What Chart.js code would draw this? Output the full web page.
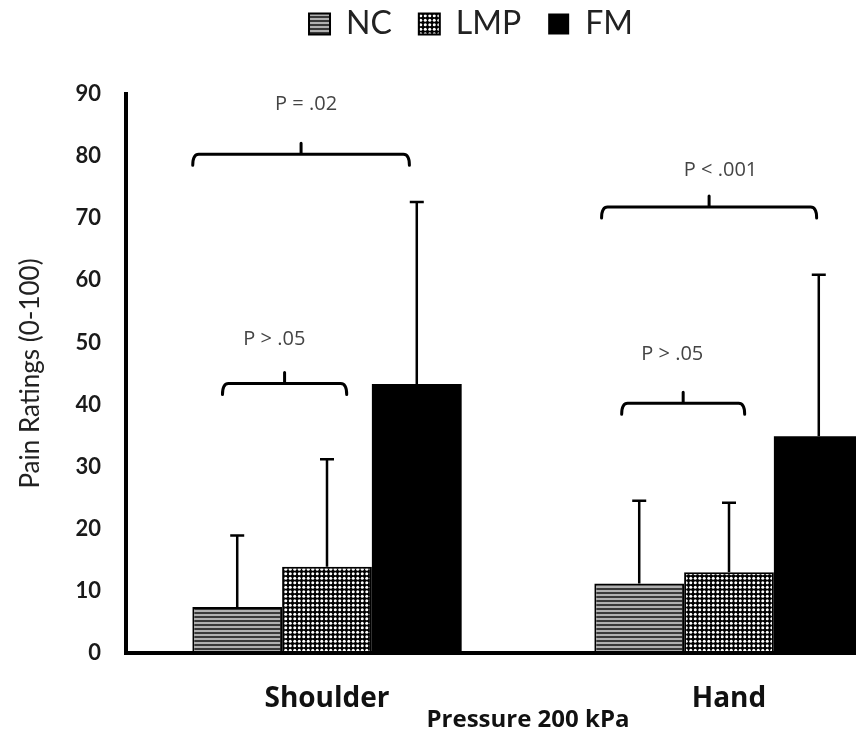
<!DOCTYPE html>
<html>
<head>
<meta charset="utf-8">
<script src="https://cdn.jsdelivr.net/npm/chart.js@4.4.0/dist/chart.umd.min.js"></script>
<style>
  html, body { margin: 0; padding: 0; background: #fff; overflow: hidden; }
  #wrap { width: 964px; height: 737px; }
</style>
</head>
<body>
<div id="wrap"><canvas id="grafico"></canvas></div>
<script>
// datos
const categorias = ["Shoulder", "Hand"];
const series = ["NC", "LMP", "FM"];
const mediaNC = [7.4, 11.2];
const mediaLMP = [13.9, 13.0];
const mediaFM = [43.3, 34.9];
const sdNC = [11.5, 13.3];
const sdLMP = [17.3, 11.2];
const sdFM = [29.3, 26.0];
const ticksY = [0, 10, 20, 30, 40, 50, 60, 70, 80, 90];

// corchetes de significancia (x en unidades de categoria, y en unidades del eje)
const corcheteIni = [-0.334, -0.26, 0.683, 0.733];
const corcheteFin = [0.205, 0.049, 1.218, 1.039];
const corcheteY = [80.3, 43.4, 71.8, 40.2];
const corcheteTexto = ["P = .02", "P > .05", "P < .001", "P > .05"];
const textoX = [-0.052, -0.131, 0.979, 0.859];
const textoY = [88.3, 50.5, 77.7, 48.1];

const fuente = "Lato, 'Open Sans', sans-serif";
const fuenteAncha = "'Open Sans', Lato, sans-serif";

function patronRayas() {
  const c = document.createElement('canvas');
  c.width = 4; c.height = 4;
  const g = c.getContext('2d');
  g.fillStyle = '#b0b0b0';
  g.fillRect(0, 0, 4, 4);
  g.fillStyle = '#383838';
  g.fillRect(0, 0, 4, 2);
  return g.createPattern(c, 'repeat');
}

function patronPuntos() {
  const c = document.createElement('canvas');
  c.width = 9; c.height = 9;
  const g = c.getContext('2d');
  g.fillStyle = '#000';
  g.fillRect(0, 0, 9, 9);
  g.fillStyle = '#fff';
  [[2.25, 2.25], [6.75, 2.25], [2.25, 6.75], [6.75, 6.75]].forEach(p => {
    g.beginPath();
    g.arc(p[0], p[1], 1.5, 0, Math.PI * 2);
    g.fill();
  });
  return g.createPattern(c, 'repeat');
}

// barras de error (solo hacia arriba, con tapa)
const barrasError = {
  id: 'barrasError',
  afterDatasetsDraw(chart) {
    const ctx = chart.ctx;
    const y = chart.scales.y;
    const sds = [sdNC, sdLMP, sdFM];
    ctx.save();
    ctx.strokeStyle = '#000';
    ctx.lineWidth = 2.5;
    chart.data.datasets.forEach((ds, i) => {
      chart.getDatasetMeta(i).data.forEach((bar, j) => {
        const tope = y.getPixelForValue(ds.data[j] + sds[i][j]);
        ctx.beginPath();
        ctx.moveTo(bar.x, bar.y);
        ctx.lineTo(bar.x, tope);
        ctx.moveTo(bar.x - 7, tope);
        ctx.lineTo(bar.x + 7, tope);
        ctx.stroke();
      });
    });
    ctx.restore();
  }
};

// corchetes con valores P
const corchetes = {
  id: 'corchetes',
  afterDraw(chart) {
    const ctx = chart.ctx;
    const x = chart.scales.x;
    const y = chart.scales.y;
    ctx.save();
    ctx.strokeStyle = '#000';
    ctx.lineWidth = 3;
    ctx.lineCap = 'round';
    for (let k = 0; k < corcheteTexto.length; k++) {
      const x1 = x.getPixelForValue(corcheteIni[k]);
      const x2 = x.getPixelForValue(corcheteFin[k]);
      const yy = y.getPixelForValue(corcheteY[k]);
      const xm = (x1 + x2) / 2;
      ctx.beginPath();
      ctx.moveTo(x1, yy + 11);
      ctx.quadraticCurveTo(x1, yy, x1 + 6, yy);
      ctx.lineTo(x2 - 6, yy);
      ctx.quadraticCurveTo(x2, yy, x2, yy + 11);
      ctx.moveTo(xm, yy);
      ctx.lineTo(xm, yy - 11);
      ctx.stroke();
      ctx.fillStyle = '#444';
      ctx.font = '20px ' + fuenteAncha;
      ctx.textAlign = 'center';
      ctx.textBaseline = 'middle';
      ctx.fillText(corcheteTexto[k], x.getPixelForValue(textoX[k]), y.getPixelForValue(textoY[k]));
    }
    ctx.restore();
  }
};

// altura fija para la leyenda y ajuste de su posicion
const margenLeyenda = {
  id: 'margenLeyenda',
  beforeInit(chart) {
    const fitOriginal = chart.legend.fit;
    chart.legend.fit = function () {
      fitOriginal.bind(chart.legend)();
      this.height = 94;
    };
  },
  afterLayout(chart) {
    chart.legend.top = -19;
    chart.legend.right += 12;
  }
};

const ctx = document.getElementById('grafico');

let grafico = new Chart(ctx, {
  type: 'bar',
  data: {
    labels: categorias,
    datasets: [
      { label: series[0], data: mediaNC, backgroundColor: patronRayas(), borderColor: '#000', borderWidth: 2, borderSkipped: false },
      { label: series[1], data: mediaLMP, backgroundColor: patronPuntos(), borderColor: '#000', borderWidth: 2, borderSkipped: false },
      { label: series[2], data: mediaFM, backgroundColor: '#000', borderColor: '#000', borderWidth: 0 }
    ]
  },
  options: {
    responsive: true,
    maintainAspectRatio: false,
    animation: false,
    layout: { padding: { left: 0, right: 34, top: 0, bottom: 0 } },
    datasets: { bar: { categoryPercentage: 0.67, barPercentage: 1.0 } },
    plugins: {
      tooltip: { enabled: false },
      legend: {
        position: 'top',
        labels: {
          boxWidth: 21,
          boxHeight: 21,
          padding: 27,
          color: '#222',
          font: { family: fuente, size: 32 }
        }
      }
    },
    scales: {
      x: {
        offset: true,
        grid: { display: false },
        border: { color: '#000', width: 4 },
        ticks: { color: '#111', padding: 21, font: { family: fuenteAncha, size: 28, weight: 'bold' } },
        title: {
          display: true,
          text: 'Pressure 200 kPa',
          color: '#111',
          padding: { top: 0, bottom: 2 },
          font: { family: fuenteAncha, size: 24, weight: 'bold' }
        },
        afterFit(s) { s.height = 84; }
      },
      y: {
        min: 0,
        max: 90,
        grid: { display: false },
        border: { color: '#000', width: 4 },
        afterBuildTicks(s) { s.ticks = ticksY.map(v => ({ value: v })); },
        ticks: { color: '#1a1a1a', padding: 17, font: { family: fuente, size: 22, weight: 'bold' } },
        title: {
          display: true,
          text: 'Pain Ratings (0-100)',
          color: '#222',
          padding: { top: 15, bottom: 0 },
          font: { family: fuente, size: 26 }
        },
        afterFit(s) { s.width = 126; }
      }
    }
  },
  plugins: [barrasError, corchetes, margenLeyenda]
});
</script>
</body>
</html>
